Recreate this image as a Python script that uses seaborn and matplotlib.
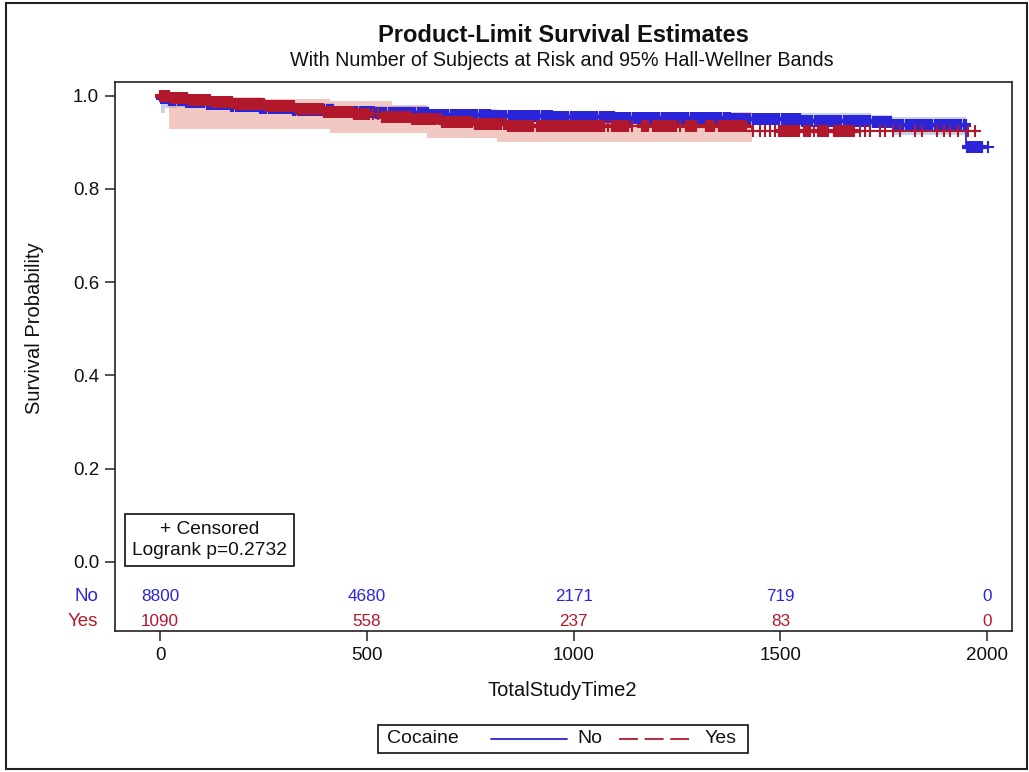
import numpy as np
import pandas as pd
import matplotlib
matplotlib.use("Agg")
import matplotlib.pyplot as plt
import seaborn as sns
from matplotlib.patches import Rectangle
from matplotlib.lines import Line2D

# ---------------- data ----------------
groups = ["No", "Yes"]
legend_title = "Cocaine"

# Kaplan-Meier step curves (time, survival)
no_time = [0, 5, 20, 60, 110, 170, 240, 320, 420, 520, 650, 800, 950, 1100,
           1380, 1550, 1720, 1770, 1949, 2000]
no_surv = [1.000, 0.994, 0.990, 0.986, 0.982, 0.978, 0.974, 0.970, 0.966, 0.962,
           0.959, 0.957, 0.954, 0.952, 0.949, 0.946, 0.943, 0.937, 0.890, 0.890]

yes_time = [0, 25, 70, 120, 180, 250, 330, 400, 470, 540, 610, 680, 760, 840,
            1432, 1975]
yes_surv = [1.000, 0.995, 0.990, 0.986, 0.982, 0.978, 0.972, 0.966, 0.961, 0.955,
            0.949, 0.944, 0.939, 0.935, 0.925, 0.925]

# 95% Hall-Wellner bands
no_band_time = [3, 12, 40, 110, 240, 420, 650, 950, 1380, 1720, 1770, 1949]
no_band_lower = [0.962, 0.974, 0.976, 0.972, 0.964, 0.956, 0.949, 0.944, 0.939,
                 0.931, 0.915, 0.915]
no_band_upper = [1.000, 1.000, 0.996, 0.992, 0.984, 0.977, 0.970, 0.965, 0.962,
                 0.958, 0.955, 0.955]

yes_band_time = [22, 100, 250, 410, 560, 645, 814, 1432]
yes_band_lower = [0.928, 0.928, 0.928, 0.920, 0.920, 0.909, 0.901, 0.901]
yes_band_upper = [1.000, 0.997, 0.993, 0.988, 0.980, 0.972, 0.966, 0.966]

# censoring times
no_censor = [
    5, 15, 25, 35, 45, 55, 65, 75, 85, 95, 105, 115, 125, 135, 145, 155, 165, 175, 185, 195,
    205, 215, 225, 235, 245, 255, 265, 275, 285, 295, 305, 315, 325, 335, 345, 355, 365, 375, 385, 395,
    405, 415, 425, 435, 445, 455, 465, 475, 485, 495, 505, 515, 525, 535, 545, 555, 565, 575, 585, 595,
    605, 615, 625, 635, 645, 655, 665, 675, 685, 695, 705, 715, 725, 735, 745, 755, 765, 775, 785, 795,
    805, 815, 825, 835, 845, 855, 865, 875, 885, 895, 905, 915, 925, 935, 945, 955, 965, 975, 985, 995,
    1005, 1015, 1025, 1035, 1045, 1055, 1065, 1075, 1085, 1095, 1105, 1115, 1125, 1135, 1145, 1155,
    1165, 1175, 1185, 1195, 1205, 1215, 1225, 1235, 1245, 1255, 1265, 1275, 1285, 1295, 1305, 1315,
    1325, 1335, 1345, 1355, 1365, 1375, 1385, 1395, 1405, 1415, 1425, 1435, 1445, 1455, 1465, 1475,
    1485, 1495, 1505, 1515, 1525, 1535, 1545, 1555, 1565, 1575, 1585, 1595, 1605, 1615, 1625, 1635,
    1645, 1655, 1665, 1675, 1685, 1695, 1705, 1715, 1725, 1735, 1745, 1755, 1765, 1775, 1785, 1795,
    1805, 1815, 1825, 1835, 1845, 1855, 1865, 1875, 1885, 1895, 1905, 1915, 1925, 1935, 1945,
    1953, 1960, 1966, 1972, 1978, 1984, 2001,
]
yes_censor = [
    2, 10, 19, 28, 37, 46, 55, 64, 73, 82, 91, 100, 109, 118, 127, 136, 145, 154, 163, 172,
    181, 190, 199, 208, 217, 226, 235, 242, 249, 258, 267, 276, 285, 294, 303, 312, 321, 331,
    339, 346, 355, 364, 373, 382, 391, 400, 409, 418, 427, 436, 445, 454, 463, 472, 481, 490,
    499, 503, 515, 527, 540, 549, 558, 567, 576, 585, 594, 603, 612, 621, 630, 639, 648, 657,
    666, 676, 685, 694, 703, 712, 721, 730, 739, 745, 753, 763, 772, 781, 790, 799, 808, 817,
    822, 835, 844, 853, 862, 871, 880, 889, 899, 914, 924, 933, 942, 951, 960, 969, 975, 983,
    990, 996, 1004, 1013, 1022, 1031, 1040, 1049, 1058, 1067, 1071, 1084, 1096, 1105, 1114,
    1120, 1128, 1141, 1168, 1177, 1194, 1203, 1212, 1221, 1230, 1238, 1245, 1257, 1273, 1283,
    1293, 1322, 1330, 1338, 1355, 1364, 1373, 1382, 1386, 1395, 1405, 1414, 1434, 1451, 1463,
    1475, 1487, 1499, 1507, 1516, 1525, 1534, 1543, 1560, 1570, 1582, 1594, 1603, 1612, 1632,
    1641, 1650, 1659, 1668, 1676, 1692, 1704, 1717, 1741, 1753, 1772, 1789, 1825, 1842, 1879,
    1895, 1911, 1929, 1954, 1971,
]

# numbers at risk
risk_times = [0, 500, 1000, 1500, 2000]
risk_no = [8800, 4680, 2171, 719, 0]
risk_yes = [1090, 558, 237, 83, 0]

title = "Product-Limit Survival Estimates"
subtitle = "With Number of Subjects at Risk and 95% Hall-Wellner Bands"
xlabel = "TotalStudyTime2"
ylabel = "Survival Probability"
censor_label = "+ Censored"
logrank_label = "Logrank p=0.2732"
xticks = [0, 500, 1000, 1500, 2000]
yticks = [0.0, 0.2, 0.4, 0.6, 0.8, 1.0]

# ---------------- styling ----------------
sns.set_theme(style="white")
plt.rcParams['font.family'] = ['Liberation Sans', 'DejaVu Sans']

BLUE = "#2A25D9"
RED = "#B2182B"
BLUE_FILL = "#7C95CA"
RED_FILL = "#DE7E6F"
W, H = 1029, 772

fig = plt.figure(figsize=(W / 100, H / 100), dpi=100)
fig.patch.set_facecolor("white")
ax_l, ax_r, ax_t, ax_b = 115, 1011.7, 81.7, 630.7
ax = fig.add_axes([ax_l / W, 1 - ax_b / H, (ax_r - ax_l) / W, (ax_b - ax_t) / H])
ax.set_facecolor("white")


def surv_at(times, surv, t):
    times = np.asarray(times)
    surv = np.asarray(surv)
    idx = np.searchsorted(times, np.asarray(t), side="right") - 1
    return surv[np.clip(idx, 0, len(surv) - 1)]


def censor_frame(ctimes, times, surv):
    ct = np.asarray(ctimes, dtype=float)
    gaps = np.diff(ct)
    left = np.r_[np.inf, gaps]
    right = np.r_[gaps, np.inf]
    dense = np.minimum(left, right) <= 10
    return pd.DataFrame({"time": ct, "surv": surv_at(times, surv, ct), "dense": dense})


# bands
ax.fill_between(no_band_time, no_band_lower, no_band_upper, step="post",
                color=BLUE_FILL, alpha=0.42, lw=0, zorder=1)
ax.fill_between(yes_band_time, yes_band_lower, yes_band_upper, step="post",
                color=RED_FILL, alpha=0.42, lw=0, zorder=1.5)

# curves
df_no = pd.DataFrame({"time": no_time, "surv": no_surv})
df_yes = pd.DataFrame({"time": yes_time, "surv": yes_surv})
sns.lineplot(data=df_no, x="time", y="surv", ax=ax, color=BLUE, lw=1.3,
             drawstyle="steps-post", estimator=None, sort=False, zorder=2)
sns.lineplot(data=df_yes, x="time", y="surv", ax=ax, color=RED, lw=1.3,
             drawstyle="steps-post", estimator=None, sort=False, zorder=4,
             linestyle=(0, (7, 3)))

# censor marks
cen_no = censor_frame(no_censor, no_time, no_surv)
cen_yes = censor_frame(yes_censor, yes_time, yes_surv)
for cen, col, z in [(cen_no, BLUE, 3), (cen_yes, RED, 5)]:
    sns.scatterplot(data=cen[cen["dense"]], x="time", y="surv", ax=ax, marker="+",
                    s=66, color=col, linewidth=3.0, zorder=z, legend=False)
    sns.scatterplot(data=cen[~cen["dense"]], x="time", y="surv", ax=ax, marker="+",
                    s=66, color=col, linewidth=1.5, zorder=z, legend=False)

# axes
ax.set_xlim(-108.8, 2059)
ax.set_ylim(-0.148, 1.030)
ax.set_xticks(xticks)
ax.set_xticklabels([str(v) for v in xticks])
ax.set_yticks(yticks)
ax.set_yticklabels([f"{v:.1f}" for v in yticks])
ax.set_xlabel("")
ax.set_ylabel("")
ax.tick_params(axis="both", direction="out", length=7, width=1.1, color="#222222",
               labelsize=13.5, labelcolor="#111111", pad=4.5,
               bottom=True, left=True, top=False, right=False)
for sp in ax.spines.values():
    sp.set_visible(True)
    sp.set_color("#222222")
    sp.set_linewidth(1.2)

# at-risk table
for t, n in zip(risk_times, risk_no):
    ax.text(t, -0.0751, str(n), ha="center", va="center", color=BLUE, fontsize=12.3)
for t, n in zip(risk_times, risk_yes):
    ax.text(t, -0.1288, str(n), ha="center", va="center", color=RED, fontsize=12.3)
ax.text(-0.019, -0.0751, groups[0], transform=ax.get_yaxis_transform(),
        ha="right", va="center", color=BLUE, fontsize=13.5)
ax.text(-0.019, -0.1288, groups[1], transform=ax.get_yaxis_transform(),
        ha="right", va="center", color=RED, fontsize=13.5)

# censored / logrank inset
ax.text(0.1054, 0.165, censor_label + "\n" + logrank_label, transform=ax.transAxes,
        ha="center", va="center", multialignment="center", fontsize=13.8,
        linespacing=1.35, color="#111111",
        bbox=dict(boxstyle="square,pad=0.35", fc="white", ec="#111111", lw=1.2))

# titles and axis labels
fig.text(563 / W, 1 - 35 / H, title, ha="center", va="center", fontsize=17,
         fontweight="bold", color="#111111")
fig.text(562 / W, 1 - 60 / H, subtitle, ha="center", va="center", fontsize=14.2,
         color="#111111")
fig.text(562 / W, 1 - 690 / H, xlabel, ha="center", va="center", fontsize=14.5,
         color="#111111")
fig.text(35 / W, 1 - 328 / H, ylabel, ha="center", va="center", rotation=90,
         fontsize=14.5, color="#111111")

# legend (drawn manually to match the inline SAS layout)
ly = 1 - 738.5 / H
fig.add_artist(Rectangle((378 / W, 1 - 752.7 / H), 370 / W, 27.7 / H,
                         transform=fig.transFigure, fill=False, ec="#111111", lw=1.2))
fig.text(386.7 / W, ly, legend_title, ha="left", va="center", fontsize=14, color="#111111")
fig.add_artist(Line2D([491 / W, 567 / W], [ly, ly], transform=fig.transFigure,
                      color=BLUE, lw=1.3))
fig.text(577 / W, ly, groups[0], ha="left", va="center", fontsize=14, color="#111111")
fig.add_artist(Line2D([619 / W, 689 / W], [ly, ly], transform=fig.transFigure,
                      color=RED, lw=1.3, linestyle=(0, (10.5, 3.7))))
fig.text(705 / W, ly, groups[1], ha="left", va="center", fontsize=14, color="#111111")

# outer border
fig.add_artist(Rectangle((5.7 / W, 1 - 769 / H), (1026.7 - 5.7) / W, (769 - 2.7) / H,
                         transform=fig.transFigure, fill=False, ec="#222222", lw=1.5))

fig.savefig("out.png", dpi=100, facecolor="white")
